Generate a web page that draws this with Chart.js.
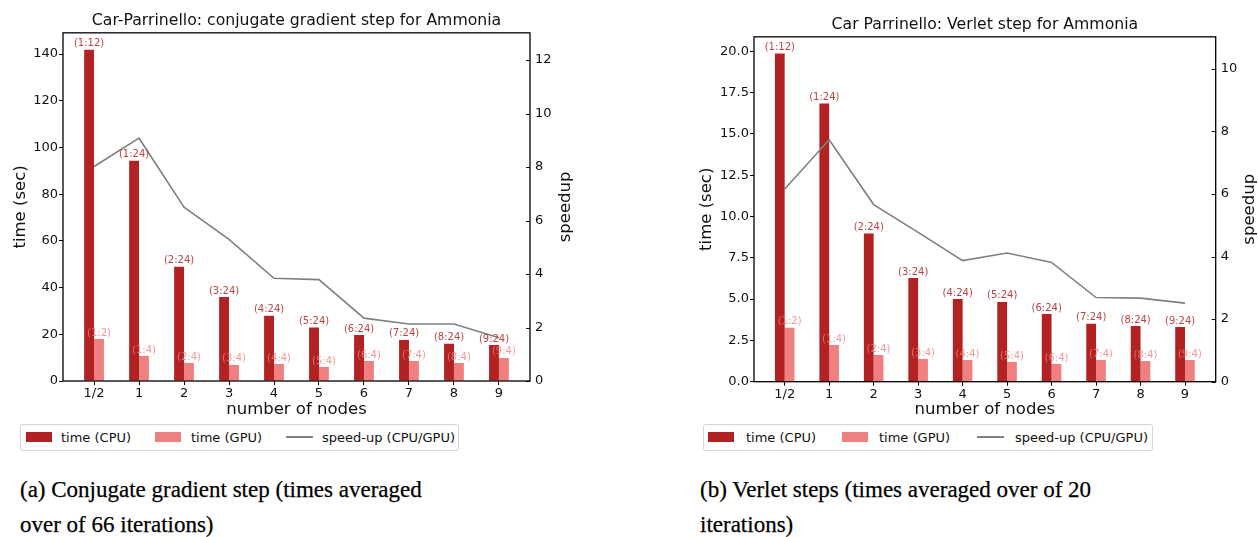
<!DOCTYPE html>
<html>
<head>
<meta charset="utf-8">
<script src="https://cdn.jsdelivr.net/npm/chart.js@4.4.1/dist/chart.umd.min.js"></script>
<style>
  html, body { margin: 0; padding: 0; background: #fff; overflow: hidden; }
  body { width: 1258px; height: 537px; position: relative; font-family: "DejaVu Sans", sans-serif; }
  canvas { position: absolute; top: 0; }
  .legenda { position: absolute; top: 424px; height: 27px; box-sizing: border-box;
             border: 1px solid #d4d4d4; border-radius: 3px; font-size: 13px; color: #111; }
  .legenda span { position: absolute; }
  .legenda .txt { top: 0; line-height: 25px; white-space: nowrap; }
  .legenda .caixa { top: 7px; width: 26px; height: 10px; }
  .legenda .traco { top: 11px; width: 27px; height: 2px; background: #808080; }
  .legenda-cap { position: absolute; top: 472px; font-family: "Liberation Serif", serif;
                 font-size: 23px; line-height: 35px; color: #000; white-space: nowrap;
                 -webkit-text-stroke: 0.25px #000; }
</style>
</head>
<body>
<canvas id="gCG" width="580" height="420" style="left:0"></canvas>
<canvas id="gVerlet" width="572" height="420" style="left:686px"></canvas>

<div class="legenda" id="legCG" style="left:20px;width:439px"></div>
<div class="legenda" id="legVerlet" style="left:703px;width:450px"></div>

<div class="legenda-cap" style="left:20px">(a) Conjugate gradient step (times averaged<br>over of 66 iterations)</div>
<div class="legenda-cap" style="left:700px">(b) Verlet steps (times averaged over of 20<br>iterations)</div>

<script>
// ========= Dados =========
const nos = ["1/2", "1", "2", "3", "4", "5", "6", "7", "8", "9"];
const rotulosCPU = ["(1:12)", "(1:24)", "(2:24)", "(3:24)", "(4:24)", "(5:24)", "(6:24)", "(7:24)", "(8:24)", "(9:24)"];
const rotulosGPU = ["(1:2)", "(1:4)", "(2:4)", "(3:4)", "(4:4)", "(5:4)", "(6:4)", "(7:4)", "(8:4)", "(9:4)"];

// gradiente conjugado (média de 66 iterações), tempos em segundos
const cgCPU = [141.9, 94.3, 48.9, 36.0, 27.9, 22.9, 19.7, 17.6, 15.9, 15.4];
const cgGPU = [18.0, 10.7, 7.7, 6.9, 7.3, 6.0, 8.6, 8.6, 7.7, 9.9];
const cgSpeedup = [8.02, 9.08, 6.50, 5.30, 3.84, 3.79, 2.35, 2.13, 2.13, 1.62];

// passo de Verlet (média de 20 iterações)
const vCPU = [19.86, 16.83, 8.97, 6.28, 5.01, 4.83, 4.10, 3.50, 3.37, 3.31];
const vGPU = [3.27, 2.22, 1.62, 1.37, 1.31, 1.19, 1.07, 1.31, 1.25, 1.31];
const vSpeedup = [6.16, 7.73, 5.66, 4.77, 3.87, 4.11, 3.81, 2.69, 2.67, 2.51];

// ========= Estilo =========
const COR_CPU = "#b22222";
const COR_GPU = "#f08080";
const COR_LINHA = "#808080";
const FONTE = "DejaVu Sans";
Chart.defaults.font.family = FONTE;
Chart.defaults.color = "#111";

// moldura completa + marcas do eixo da direita (para dentro) + título "speedup"
const moldura = {
  id: "moldura",
  afterDraw(chart, args, opts) {
    const { ctx, chartArea: a } = chart;
    const s = chart.scales.y1;
    ctx.save();
    ctx.strokeStyle = "#000";
    ctx.lineWidth = 1;
    s.ticks.forEach((t) => {
      const y = Math.round(s.getPixelForValue(t.value)) + 0.5;
      ctx.beginPath();
      ctx.moveTo(a.right - 4, y);
      ctx.lineTo(a.right, y);
      ctx.stroke();
    });
    ctx.lineWidth = 1.3;
    ctx.strokeRect(a.left, a.top, a.right - a.left, a.bottom - a.top);

    ctx.translate(opts.xTitulo, (a.top + a.bottom) / 2);
    ctx.rotate(-Math.PI / 2);
    ctx.font = `16.5px "${FONTE}"`;
    ctx.fillStyle = "#111";
    ctx.textAlign = "center";
    ctx.textBaseline = "middle";
    ctx.fillText("speedup", 0, 0);
    ctx.restore();
  },
};

// rótulos (nós:processos) acima de cada barra
const rotulosBarras = {
  id: "rotulosBarras",
  afterDatasetsDraw(chart) {
    const { ctx } = chart;
    ctx.save();
    ctx.font = `10px "${FONTE}"`;
    ctx.textAlign = "center";
    ctx.textBaseline = "bottom";
    chart.data.datasets.forEach((ds, i) => {
      if (!ds.rotulos) return;
      ctx.fillStyle = ds.corRotulo;
      chart.getDatasetMeta(i).data.forEach((bar, j) => {
        ctx.fillText(ds.rotulos[j], bar.x, bar.y - 1);
      });
    });
    ctx.restore();
  },
};

function pontos(valores) {
  return valores.map((y, i) => ({ x: i, y }));
}

// monta um dos dois gráficos
function criarGrafico(id, cfg) {
  return new Chart(document.getElementById(id), {
    type: "bar",
    data: {
      datasets: [
        {
          type: "line",
          label: "speed-up (CPU/GPU)",
          data: pontos(cfg.speedup),
          yAxisID: "y1",
          borderColor: COR_LINHA,
          borderWidth: 1.6,
          pointRadius: 0,
          tension: 0,
          order: 0,
        },
        {
          label: "time (CPU)",
          data: pontos(cfg.cpu),
          backgroundColor: COR_CPU,
          rotulos: rotulosCPU,
          corRotulo: "rgba(178, 34, 34, 0.85)",
          order: 1,
        },
        {
          label: "time (GPU)",
          data: pontos(cfg.gpu),
          backgroundColor: COR_GPU,
          rotulos: rotulosGPU,
          corRotulo: "rgba(240, 128, 128, 0.8)",
          order: 1,
        },
      ],
    },
    options: {
      responsive: false,
      animation: false,
      events: [],
      categoryPercentage: 0.44,
      barPercentage: 1.0,
      layout: { padding: 0 },
      plugins: {
        legend: { display: false },
        tooltip: { enabled: false },
        title: {
          display: true,
          fullSize: false,
          text: cfg.titulo,
          color: "#111",
          font: { size: 15.7, weight: "normal", lineHeight: 1.2 },
          padding: { top: cfg.topoTitulo, bottom: 2 },
        },
        moldura: { xTitulo: cfg.xTituloDir },
      },
      scales: {
        x: {
          type: "linear",
          offset: false,
          min: -0.69,
          max: 9.69,
          afterBuildTicks: (s) => { s.ticks = nos.map((_, i) => ({ value: i })); },
          ticks: { callback: (v) => nos[v], font: { size: 13 }, padding: 1, maxRotation: 0, autoSkip: false },
          grid: { drawOnChartArea: false, tickLength: 4, color: "#000", offset: false },
          border: { display: false },
          title: { display: true, text: "number of nodes", font: { size: 16.5 }, padding: { top: 0, bottom: 0 } },
          afterFit: (s) => { s.height = cfg.alturaX; },
        },
        y: {
          position: "left",
          min: 0,
          max: cfg.yMax,
          ticks: {
            stepSize: cfg.yPasso,
            includeBounds: false,
            font: { size: 13 },
            padding: 1,
            callback: (v) => v.toFixed(cfg.yDecimais),
          },
          grid: { drawOnChartArea: false, tickLength: 4, color: "#000" },
          border: { display: false },
          title: { display: true, text: "time (sec)", font: { size: 16.5 }, padding: { top: cfg.padTituloEsq } },
          afterFit: (s) => { s.width = cfg.larguraY; },
        },
        y1: {
          position: "right",
          min: 0,
          max: cfg.y1Max,
          ticks: { stepSize: 2, includeBounds: false, font: { size: 13 }, padding: 5 },
          grid: { drawOnChartArea: false, drawTicks: false },
          border: { display: false },
          afterFit: (s) => { s.width = cfg.larguraY1; },
        },
      },
    },
    plugins: [rotulosBarras, moldura],
  });
}

criarGrafico("gCG", {
  titulo: "Car-Parrinello: conjugate gradient step for Ammonia",
  cpu: cgCPU, gpu: cgGPU, speedup: cgSpeedup,
  yMax: 149.1, yPasso: 20, yDecimais: 0, y1Max: 13.02,
  topoTitulo: 12, alturaX: 39, larguraY: 63, larguraY1: 50,
  padTituloEsq: 10.5, xTituloDir: 565.5,
});

criarGrafico("gVerlet", {
  titulo: "Car Parrinello: Verlet step for Ammonia",
  cpu: vCPU, gpu: vGPU, speedup: vSpeedup,
  yMax: 20.87, yPasso: 2.5, yDecimais: 1, y1Max: 11.02,
  topoTitulo: 16, alturaX: 38.3, larguraY: 68, larguraY1: 42.3,
  padTituloEsq: 11.2, xTituloDir: 564,
});

// ========= Legendas (HTML) =========
function montarLegenda(id, pos) {
  const el = document.getElementById(id);
  el.innerHTML =
    `<span class="caixa" style="left:${pos[0]}px;background:${COR_CPU}"></span>` +
    `<span class="txt" style="left:${pos[1]}px">time (CPU)</span>` +
    `<span class="caixa" style="left:${pos[2]}px;background:${COR_GPU}"></span>` +
    `<span class="txt" style="left:${pos[3]}px">time (GPU)</span>` +
    `<span class="traco" style="left:${pos[4]}px"></span>` +
    `<span class="txt" style="left:${pos[5]}px">speed-up (CPU/GPU)</span>`;
}
montarLegenda("legCG", [5, 40, 134, 170, 265, 301]);
montarLegenda("legVerlet", [4, 42, 138, 175, 273, 311]);
</script>
</body>
</html>
